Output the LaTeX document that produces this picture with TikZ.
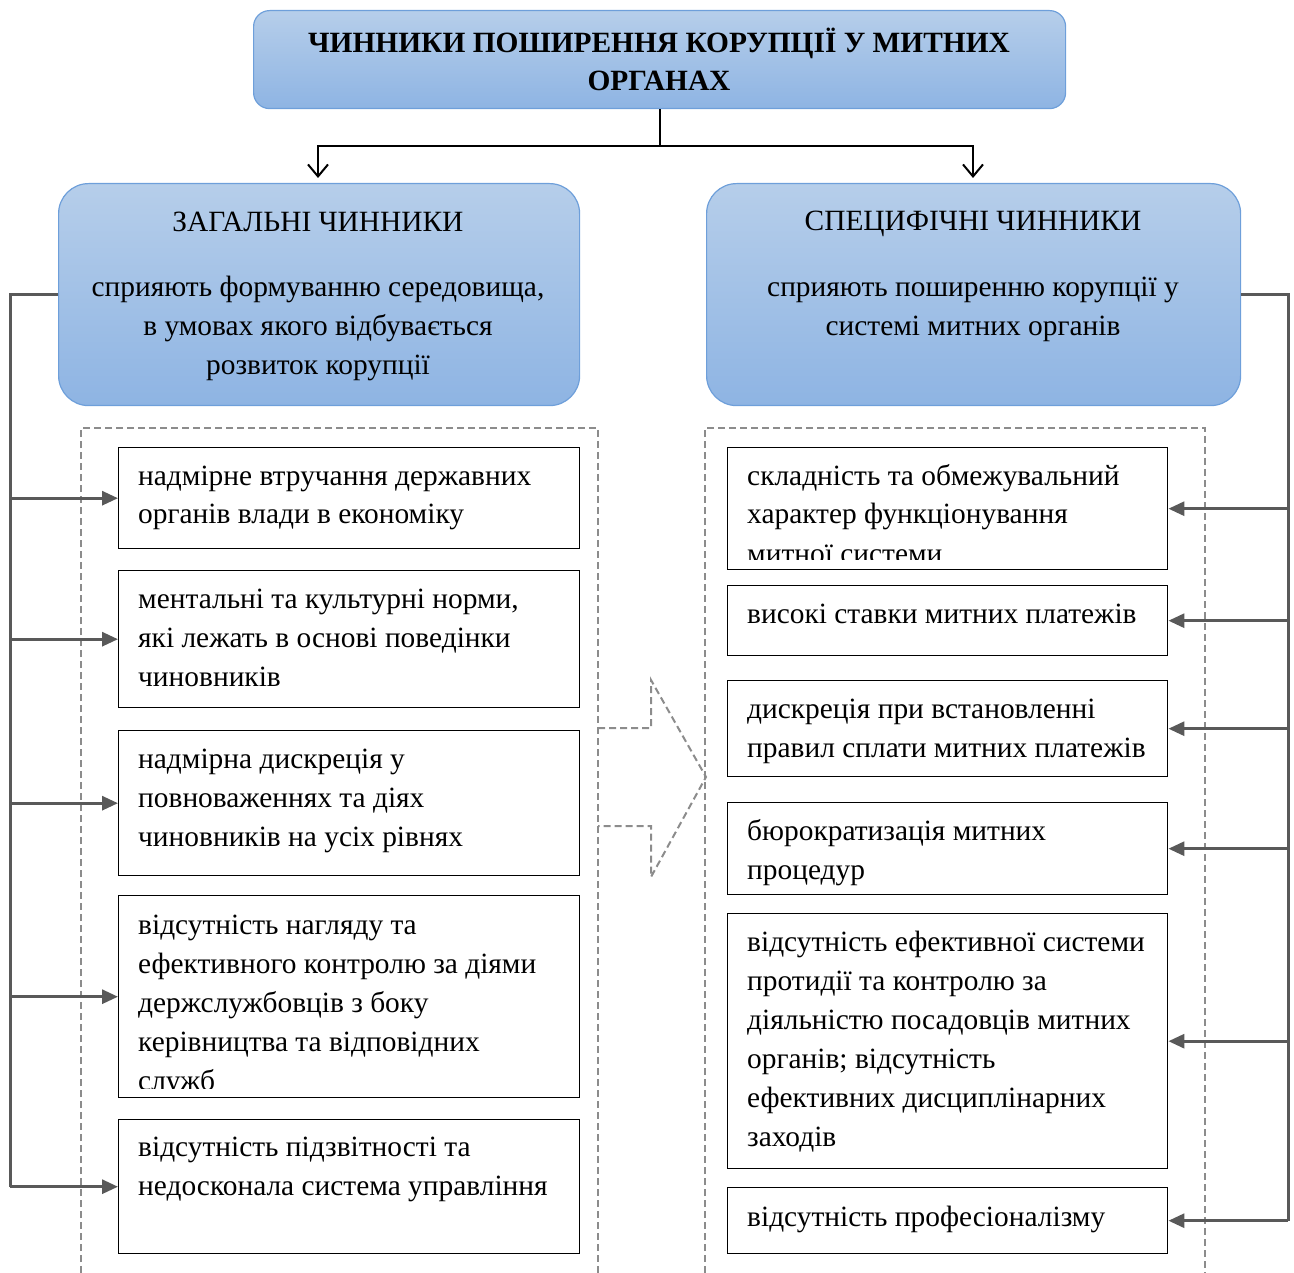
\documentclass[tikz,border=0pt]{standalone}
\usepackage{fontspec}
\setmainfont{Liberation Serif}
\usetikzlibrary{arrows.meta}
\definecolor{btop}{HTML}{B6CEEA}
\definecolor{bbot}{HTML}{8EB4E3}
\definecolor{bdraw}{HTML}{6E9FDA}
\definecolor{gline}{HTML}{595959}
\definecolor{gdash}{HTML}{8C8C8C}
\newcommand{\bodyfont}{\fontsize{29.4}{39}\selectfont}
\tikzset{
  headbox/.style={draw=bdraw, line width=1.2pt, top color=btop, bottom color=bbot, anchor=north west, inner sep=0pt},
  fbox/.style={draw=black, line width=1.4pt, anchor=north west, inner sep=0pt},
  txt/.style={anchor=base west, inner sep=0pt, font=\bodyfont},
  ctxt/.style={anchor=base, inner sep=0pt, font=\bodyfont},
  ttxt/.style={anchor=base, inner sep=0pt, font=\fontsize{29.4}{38}\selectfont\bfseries},
  garrow/.style={draw=gline, line width=3pt, -{Triangle[length=16pt,width=14pt]}},
  gpath/.style={draw=gline, line width=3pt},
  dashframe/.style={draw=gdash, line width=2pt, dash pattern=on 7pt off 4pt},
  blackline/.style={draw=black, line width=2.2pt},
  blackarrow/.style={draw=black, line width=2.2pt, -{Straight Barb[length=12pt,width=20pt,line width=2pt]}}
}
\begin{document}
\begin{tikzpicture}[x=1pt,y=-1pt]
\useasboundingbox (0,0) rectangle (1294,1273);
% title
\node[headbox, rounded corners=16pt, minimum width=812pt, minimum height=98pt] (T) at (253,10) {};
\node[ttxt] (T1) at (659,53) {ЧИННИКИ ПОШИРЕННЯ КОРУПЦІЇ У МИТНИХ};
\node[ttxt] (T2) at (659,91) {ОРГАНАХ};
% head boxes
\node[headbox, rounded corners=30pt, minimum width=521pt, minimum height=222pt] (LB) at (58,183) {};
\node[headbox, rounded corners=30pt, minimum width=534pt, minimum height=222pt] (RB) at (706,183) {};
\node[ctxt] (LBt1) at (318,232) {ЗАГАЛЬНІ ЧИННИКИ};
\node[ctxt] (LBt2) at (318,297) {сприяють формуванню середовища,};
\node[ctxt] (LBt3) at (318,336) {в умовах якого відбувається};
\node[ctxt] (LBt4) at (318,375) {розвиток корупції};
\node[ctxt] (RBt1) at (973,231) {СПЕЦИФІЧНІ ЧИННИКИ};
\node[ctxt] (RBt2) at (973,297) {сприяють поширенню корупції у};
\node[ctxt] (RBt3) at (973,336) {системі митних органів};
% connectors top
\path (T.south) ++(0,37) coordinate (split);
\coordinate (lt) at (318,178);
\coordinate (rt) at (973,178);
\draw[blackline] (T.south) -- (split);
\draw[blackarrow] (split) -| (lt);
\draw[blackarrow] (split) -| (rt);
% dashed frames
\draw[dashframe] (81,1273) -- (81,428) -- (598,428) -- (598,1273);
\draw[dashframe] (705,1273) -- (705,428) -- (1205,428) -- (1205,1273);
\draw[dashframe] (598,728) -- (651,728) -- (651,680) -- (706,777) -- (651,877) -- (651,826) -- (598,826);
% left texts
\node[txt] (L1t) at (138,485) {\parbox[t]{440pt}{\raggedright надмірне втручання державних\\органів влади в економіку}};
\node[txt] (L2t) at (138,608) {\parbox[t]{440pt}{\raggedright ментальні та культурні норми,\\які лежать в основі поведінки\\чиновників}};
\node[txt] (L3t) at (138,768) {\parbox[t]{440pt}{\raggedright надмірна дискреція у\\повноваженнях та діях\\чиновників на усіх рівнях}};
\begin{scope}
\clip (118,895) rectangle (579,1088);
\node[txt] (L4t) at (138,934) {\parbox[t]{440pt}{\raggedright відсутність нагляду та\\ефективного контролю за діями\\держслужбовців з боку\\керівництва та відповідних\\служб}};
\end{scope}
\node[txt] (L5t) at (138,1156) {\parbox[t]{440pt}{\raggedright відсутність підзвітності та\\недосконала система управління}};
% left boxes
\node[fbox, minimum width=461pt, minimum height=101pt] (L1) at (118,447) {};
\node[fbox, minimum width=461pt, minimum height=137pt] (L2) at (118,570) {};
\node[fbox, minimum width=461pt, minimum height=145pt] (L3) at (118,730) {};
\node[fbox, minimum width=461pt, minimum height=202pt] (L4) at (118,895) {};
\node[fbox, minimum width=461pt, minimum height=134pt] (L5) at (118,1119) {};
% right texts
\begin{scope}
\clip (727,447) rectangle (1167,559);
\node[txt] (R1t) at (747,485) {\parbox[t]{420pt}{\raggedright складність та обмежувальний\\характер функціонування\\митної системи}};
\end{scope}
\node[txt] (R2t) at (747,623) {високі ставки митних платежів};
\node[txt] (R3t) at (747,718) {\parbox[t]{420pt}{\raggedright дискреція при встановленні\\правил сплати митних платежів}};
\node[txt] (R4t) at (747,840) {\parbox[t]{420pt}{\raggedright бюрократизація митних\\процедур}};
\node[txt] (R5t) at (747,951) {\parbox[t]{420pt}{\raggedright відсутність ефективної системи\\протидії та контролю за\\діяльністю посадовців митних\\органів; відсутність\\ефективних дисциплінарних\\заходів}};
\node[txt] (R6t) at (747,1226) {відсутність професіоналізму};
% right boxes
\node[fbox, minimum width=440pt, minimum height=122pt] (R1) at (727,447) {};
\node[fbox, minimum width=440pt, minimum height=70pt] (R2) at (727,585) {};
\node[fbox, minimum width=440pt, minimum height=96pt] (R3) at (727,680) {};
\node[fbox, minimum width=440pt, minimum height=92pt] (R4) at (727,802) {};
\node[fbox, minimum width=440pt, minimum height=255pt] (R5) at (727,913) {};
\node[fbox, minimum width=440pt, minimum height=66pt] (R6) at (727,1187) {};
% gray connectors left
\coordinate (lx) at (10,0);
\draw[gpath] (LB.west) -- (LB.west -| lx) -- (L5.west -| lx);
\foreach \n in {L1,L2,L3,L4,L5}{
  \draw[garrow] (\n.west -| lx) -- (\n.west);
}
% gray connectors right
\coordinate (rx) at (1288,0);
\draw[gpath] (RB.east) -- (RB.east -| rx) -- (R6.east -| rx);
\foreach \n in {R1,R2,R3,R4,R5,R6}{
  \draw[garrow] (\n.east -| rx) -- (\n.east);
}
\end{tikzpicture}
\end{document}
